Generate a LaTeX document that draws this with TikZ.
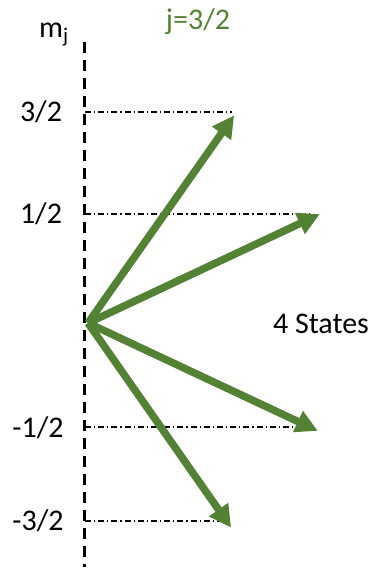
\documentclass[tikz,border=0pt]{standalone}
\usepackage{fontspec}
\setmainfont{Carlito}
\usetikzlibrary{arrows.meta}
\definecolor{vgreen}{HTML}{548235}
\tikzset{
  lbl/.style={font=\fontsize{30}{32}\selectfont, inner sep=0pt},
  vec/.style={draw=vgreen, line width=7.5pt, -{Triangle[length=22pt,width=22pt]}, shorten >=-2pt},
  level/.style={draw=black, line width=1.1pt, dash pattern=on 6pt off 3pt on 1.2pt off 3pt},
  axis/.style={draw=black, line width=3pt, dash pattern=on 11pt off 7pt}
}
\begin{document}
\begin{tikzpicture}[x=1pt,y=-1pt]
\useasboundingbox (0,0) rectangle (377,574);
\coordinate (atop) at (84,42);
\coordinate (abot) at (84,567);
\draw[axis] (atop) -- (abot);
\coordinate (o) at (88,323);
% level lines
\coordinate (l1s) at (85,112); \coordinate (l1e) at (232,112);
\coordinate (l2s) at (85,214); \coordinate (l2e) at (310,214);
\coordinate (l3s) at (85,427); \coordinate (l3e) at (310,427);
\coordinate (l4s) at (85,521); \coordinate (l4e) at (228,521);
\draw[level] (l1s) -- (l1e);
\draw[level] (l2s) -- (l2e);
\draw[level] (l3s) -- (l3e);
\draw[level] (l4s) -- (l4e);
% vectors
\coordinate (t1) at (233,117);
\coordinate (t2) at (318,215);
\coordinate (t3) at (316,430);
\coordinate (t4) at (230,526);
\draw[vec] (o) -- (t1);
\draw[vec] (o) -- (t2);
\draw[vec] (o) -- (t3);
\draw[vec] (o) -- (t4);
% labels
\node[lbl] (n1) at (41,112) {3/2};
\node[lbl] (n2) at (41,214) {1/2};
\node[lbl] (n3) at (38,428) {-1/2};
\node[lbl] (n4) at (38,521) {-3/2};
\node[lbl, anchor=base west] (mj) at (39,37) {m\textsubscript{j}};
\node[lbl, text=vgreen] (jj) at (198,22) {j=3/2};
\node[lbl] (st) at (321,324) {4 States};
\end{tikzpicture}
\end{document}
